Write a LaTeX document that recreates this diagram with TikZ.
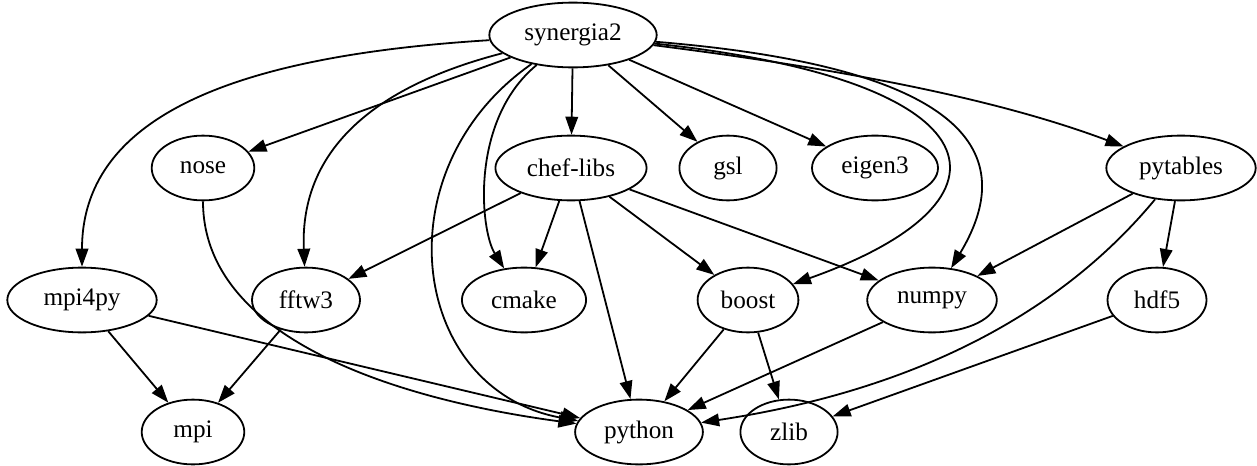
\documentclass[tikz,border=0pt]{standalone}
\usepackage{fontspec}
\setmainfont{Liberation Serif}
\usetikzlibrary{shapes.geometric,arrows.meta}

\begin{document}
\begin{tikzpicture}[x=0.5556pt,y=-0.5556pt,
    pkg/.style={draw,ellipse,line width=1pt,inner sep=0pt,minimum height=36pt,font=\fontsize{14}{16}\selectfont},
    dep/.style={line width=1pt,-{Triangle[length=10pt,width=7pt]}}]
    \useasboundingbox (0,0) rectangle (1257,465);

    \node[pkg,minimum width=93pt] (synergia2) at (573,35) {synergia2};

    \node[pkg,minimum width=57pt] (nose) at (203,168) {nose};
    \node[pkg,minimum width=84pt] (cheflibs) at (571,168) {chef-libs};
    \node[pkg,minimum width=54pt] (gsl) at (728,168) {gsl};
    \node[pkg,minimum width=70pt] (eigen3) at (875,168) {eigen3};
    \node[pkg,minimum width=83pt] (pytables) at (1181,168) {pytables};

    \node[pkg,minimum width=83pt] (mpi4py) at (82,300) {mpi4py};
    \node[pkg,minimum width=60pt] (fftw3) at (306,300) {fftw3};
    \node[pkg,minimum width=69pt] (cmake) at (524,300) {cmake};
    \node[pkg,minimum width=56pt] (boost) at (748,300) {boost};
    \node[pkg,minimum width=72pt] (numpy) at (932,300) {numpy};
    \node[pkg,minimum width=55pt] (hdf5) at (1157,300) {hdf5};

    \node[pkg,minimum width=57pt] (mpi) at (193,432) {mpi};
    \node[pkg,minimum width=71pt] (python) at (639,432) {python};
    \node[pkg,minimum width=54pt] (zlib) at (789,432) {zlib};

    % synergia2
    \draw[dep] (synergia2) .. controls (250,55) and (82,110) .. (mpi4py);
    \draw[dep] (synergia2) -- (nose);
    \draw[dep] (synergia2) .. controls (360,90) and (300,160) .. (fftw3);
    \draw[dep] (synergia2) .. controls (380,170) and (410,390) .. (python);
    \draw[dep] (synergia2) .. controls (470,120) and (480,230) .. (cmake);
    \draw[dep] (synergia2) -- (cheflibs);
    \draw[dep] (synergia2) -- (gsl);
    \draw[dep] (synergia2) -- (eigen3);
    \draw[dep] (synergia2) .. controls (1000,80) and (1030,200) .. (boost);
    \draw[dep] (synergia2) .. controls (1000,70) and (1010,170) .. (numpy);
    \draw[dep] (synergia2) .. controls (850,70) and (1000,100) .. (pytables);

    % row 2
    \draw[dep] (nose) .. controls (203,340) and (400,400) .. (python);
    \draw[dep] (cheflibs) -- (fftw3);
    \draw[dep] (cheflibs) -- (cmake);
    \draw[dep] (cheflibs) -- (python);
    \draw[dep] (cheflibs) -- (boost);
    \draw[dep] (cheflibs) -- (numpy);
    \draw[dep] (pytables) -- (numpy);
    \draw[dep] (pytables) -- (hdf5);
    \draw[dep] (pytables) .. controls (1080,290) and (950,385) .. (python);

    % row 3
    \draw[dep] (mpi4py) -- (mpi);
    \draw[dep] (mpi4py) -- (python);
    \draw[dep] (fftw3) -- (mpi);
    \draw[dep] (boost) -- (python);
    \draw[dep] (boost) -- (zlib);
    \draw[dep] (numpy) -- (python);
    \draw[dep] (hdf5) -- (zlib);
\end{tikzpicture}
\end{document}
